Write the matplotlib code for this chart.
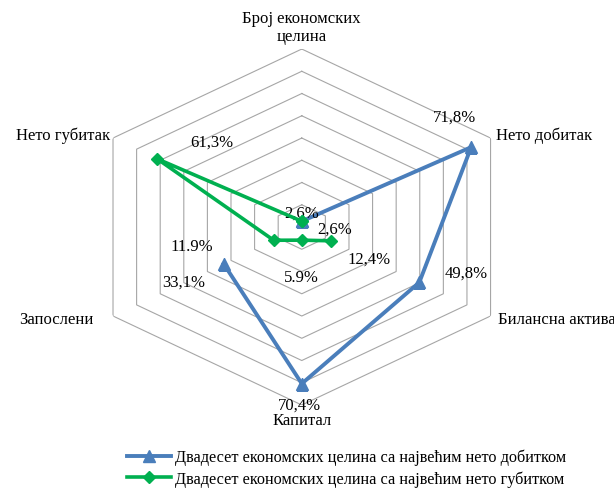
import numpy as np
import matplotlib
matplotlib.use('Agg')
import matplotlib.pyplot as plt

# categories clockwise starting from the top
categories = ['Број економских\nцелина', 'Нето добитак', 'Билансна актива',
              'Капитал', 'Запослени', 'Нето губитак']
profit_name = 'Двадесет економских целина са највећим нето добитком'
loss_name = 'Двадесет економских целина са највећим нето губитком'
profit = [2.6, 71.8, 49.8, 70.4, 33.1, np.nan]
loss = [2.6, np.nan, 12.4, 5.9, 11.9, 61.3]
profit_labels = ['2,6%', '71,8%', '49,8%', '70,4%', '33,1%', '']
loss_labels = ['2,6%', '', '12,4%', '5.9%', '11.9%', '61,3%']
rings = [10, 20, 30, 40, 50, 60, 70, 80]

# label offsets in pixels (dx, dy)
profit_off = [(0, 9), (-17, 31), (47, 10), (-2, -21), (-40, -18), (0, 0)]
loss_off = [(33, -7), (0, 0), (38, -18), (0, -37), (-82, -6), (55, 17)]
cat_style = [((0, 22), 'center', 'center'), ((5, 3), 'left', 'center'),
             ((7, -3), 'left', 'center'), ((0, -15), 'center', 'center'),
             ((-20, -3), 'right', 'center'), ((-3, 3), 'right', 'center')]

plt.rcParams['font.family'] = ['Liberation Serif', 'DejaVu Serif']

n = len(categories)
theta = np.linspace(0, 2 * np.pi, n, endpoint=False)
theta_c = np.append(theta, theta[0])

fig = plt.figure(figsize=(6.14, 4.89), dpi=100)
ax = fig.add_axes([0.1365, 0.1697, 0.710, 0.728], projection='polar')
ax.set_aspect('auto')
ax.set_theta_zero_location('N')
ax.set_theta_direction(-1)
ax.set_ylim(0, 80)
ax.axis('off')

for r in rings:
    ax.plot(theta_c, [r] * (n + 1), color='#a6a6a6', lw=0.8, zorder=1)

blue = '#4a7ebb'
green = '#00b050'
ax.plot(theta_c, profit + profit[:1], color=blue, lw=2.8, marker='^',
        markersize=9, label=profit_name, zorder=3)
ax.plot(theta_c, loss + loss[:1], color=green, lw=2.6, marker='D',
        markersize=6, label=loss_name, zorder=4)

fs = 12
for t, v, lab, off in zip(theta, profit, profit_labels, profit_off):
    if lab:
        ax.annotate(lab, (t, v), xytext=off, textcoords='offset pixels',
                    ha='center', va='center', fontsize=fs)
for t, v, lab, off in zip(theta, loss, loss_labels, loss_off):
    if lab:
        ax.annotate(lab, (t, v), xytext=off, textcoords='offset pixels',
                    ha='center', va='center', fontsize=fs)

for t, cat, (off, ha, va) in zip(theta, categories, cat_style):
    ax.annotate(cat, (t, 80), xytext=off, textcoords='offset pixels',
                ha=ha, va=va, fontsize=fs, linespacing=1.1,
                annotation_clip=False)

fig.legend(loc='upper left', bbox_to_anchor=(127 / 614, 1 - 450 / 489),
           frameon=False, fontsize=11.7, handlelength=2.7, handletextpad=0.25,
           borderpad=0, borderaxespad=0, labelspacing=0.3)

fig.savefig('out.png', dpi=100)
